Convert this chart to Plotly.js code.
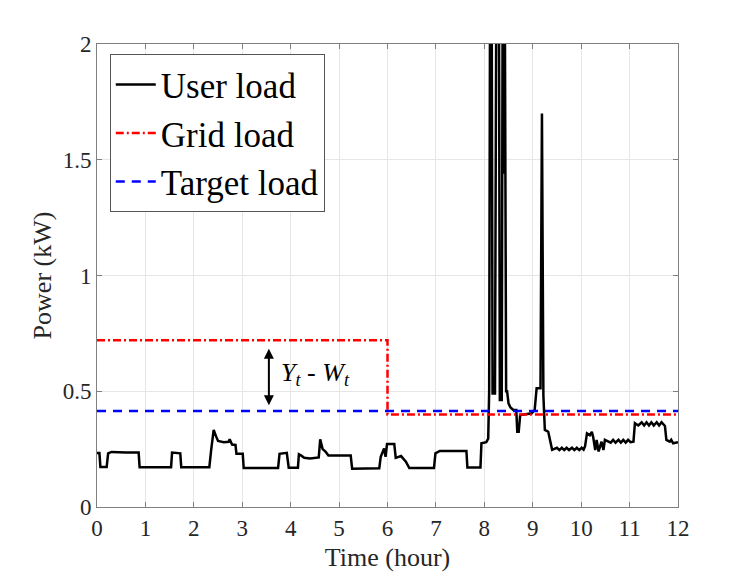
<!DOCTYPE html>
<html>
<head>
<meta charset="utf-8">
<script src="https://cdn.plot.ly/plotly-3.0.1.min.js"></script>
<style>
  html, body { margin: 0; padding: 0; background: #ffffff; }
  #chart { width: 747px; height: 577px; }
</style>
</head>
<body>
<div id="chart"></div>
<script>
// user load trace (hour, kW)
var userHours = [
  0.00, 0.05, 0.07, 0.20, 0.23, 0.30, 0.60, 0.86, 0.88, 1.30, 1.53, 1.55, 1.72, 1.74,
  2.32, 2.36, 2.41, 2.46, 2.50, 2.62, 2.72, 2.74, 2.79, 2.86, 2.88, 3.01, 3.03,
  3.74, 3.77, 3.92, 3.96, 4.15, 4.17, 4.22, 4.28, 4.40, 4.58, 4.61, 4.66, 4.72, 4.78, 5.24, 5.27,
  5.83, 5.86, 5.93, 5.96, 5.99, 6.14, 6.17, 6.28, 6.38, 6.45, 6.96, 6.99, 7.08, 7.63, 7.65,
  7.92, 7.94, 8.04, 8.08,
  8.10, 8.12, 8.15, 8.17, 8.22, 8.25, 8.30, 8.32, 8.36, 8.38, 8.40, 8.42, 8.45,
  8.47, 8.50, 8.54, 8.60, 8.66, 8.68, 8.71, 8.74, 8.82, 8.98, 9.04, 9.08, 9.16, 9.19, 9.22, 9.25,
  9.32, 9.36, 9.40, 9.50, 9.55, 9.60, 9.65, 9.70, 9.75, 9.81, 9.86, 9.91, 9.96, 10.01, 10.05,
  10.08, 10.12, 10.18, 10.22, 10.25, 10.29, 10.32, 10.36, 10.42, 10.46, 10.49, 10.56, 10.61,
  10.66, 10.71, 10.77, 10.82, 10.87, 10.92, 10.97, 11.02, 11.08, 11.11, 11.18, 11.25, 11.30,
  11.35, 11.40, 11.45, 11.50, 11.56, 11.61, 11.66, 11.73, 11.76, 11.83, 11.86, 11.90, 12.00
];
var userLoad = [
  0.233, 0.233, 0.173, 0.173, 0.232, 0.238, 0.235, 0.235, 0.172, 0.172, 0.172, 0.235, 0.232, 0.172,
  0.172, 0.250, 0.333, 0.305, 0.285, 0.280, 0.282, 0.293, 0.270, 0.268, 0.230, 0.230, 0.168,
  0.168, 0.230, 0.234, 0.170, 0.170, 0.228, 0.222, 0.213, 0.210, 0.214, 0.292, 0.250, 0.239, 0.222, 0.222, 0.165,
  0.167, 0.217, 0.253, 0.217, 0.272, 0.272, 0.212, 0.220, 0.196, 0.168, 0.168, 0.232, 0.242, 0.242, 0.171,
  0.171, 0.275, 0.280, 0.295,
  0.500, 2.400, 2.400, 0.490, 0.490, 2.400, 2.400, 0.462, 0.462, 2.400, 1.440, 2.400, 0.500,
  0.500, 0.448, 0.430, 0.419, 0.419, 0.325, 0.325, 0.397, 0.400, 0.405, 0.420, 0.513, 0.513, 1.700, 0.480, 0.333,
  0.325, 0.290, 0.247, 0.256, 0.246, 0.256, 0.246, 0.256, 0.246, 0.256, 0.246, 0.256, 0.246, 0.256, 0.248,
  0.262, 0.318, 0.310, 0.325, 0.300, 0.246, 0.290, 0.240, 0.282, 0.246, 0.290, 0.282, 0.278,
  0.290, 0.278, 0.290, 0.278, 0.290, 0.278, 0.290, 0.280, 0.282, 0.362, 0.352, 0.366, 0.352,
  0.366, 0.352, 0.366, 0.352, 0.366, 0.352, 0.366, 0.350, 0.290, 0.282, 0.290, 0.275, 0.280
];

// grid load (step) and target load
var gridHours = [0, 6, 6, 12];
var gridLoad = [0.72, 0.72, 0.40, 0.40];
var targetHours = [0, 12];
var targetLoad = [0.415, 0.415];

var xTicks = [0, 1, 2, 3, 4, 5, 6, 7, 8, 9, 10, 11, 12];
var yTicks = [0, 0.5, 1, 1.5, 2];
var yTickText = ['0', '0.5', '1', '1.5', '2'];

var serif = 'Liberation Serif, Times New Roman, serif';
var axisGray = '#808080';

var traces = [
  {
    x: userHours, y: userLoad, mode: 'lines', name: 'User load',
    line: { color: '#000000', width: 2.5 }
  },
  {
    x: gridHours, y: gridLoad, mode: 'lines', name: 'Grid load',
    line: { color: '#ff0000', width: 2.5, dash: '8px,3px,2px,3px' }
  },
  {
    x: targetHours, y: targetLoad, mode: 'lines', name: 'Target load',
    line: { color: '#0000ff', width: 2.5, dash: '9px,7px' }
  }
];

var layout = {
  width: 747,
  height: 577,
  paper_bgcolor: '#ffffff',
  plot_bgcolor: '#ffffff',
  margin: { l: 97, r: 69, t: 44, b: 70 },
  font: { family: serif, size: 23, color: '#262626' },
  showlegend: true,
  legend: {
    x: 0.022, y: 0.978, xanchor: 'left', yanchor: 'top',
    bgcolor: '#ffffff', bordercolor: '#555555', borderwidth: 1,
    font: { family: serif, size: 35, color: '#000000' },
    tracegroupgap: 0, itemwidth: 40
  },
  xaxis: {
    range: [0, 12],
    tickvals: xTicks,
    ticks: 'inside', ticklen: 5, tickcolor: axisGray,
    showline: true, linecolor: axisGray, linewidth: 1, mirror: 'ticks',
    showgrid: true, gridcolor: '#e6e6e6', gridwidth: 1,
    zeroline: false,
    tickfont: { family: serif, size: 23, color: '#262626' },
    title: { text: 'Time (hour)', font: { family: serif, size: 26, color: '#262626' }, standoff: 8 }
  },
  yaxis: {
    range: [0, 2],
    tickvals: yTicks, ticktext: yTickText,
    ticks: 'inside', ticklen: 5, tickcolor: axisGray,
    showline: true, linecolor: axisGray, linewidth: 1, mirror: 'ticks',
    showgrid: true, gridcolor: '#e6e6e6', gridwidth: 1,
    zeroline: false,
    tickfont: { family: serif, size: 23, color: '#262626' },
    title: { text: 'Power (kW)', font: { family: serif, size: 26, color: '#262626' }, standoff: 3 }
  },
  annotations: [
    {
      // double-headed arrow between grid and target load
      x: 3.55, y: 0.44, xref: 'x', yref: 'y',
      ax: 3.55, ay: 0.69, axref: 'x', ayref: 'y',
      text: '', showarrow: true,
      arrowhead: 2, startarrowhead: 2, arrowside: 'end+start',
      arrowsize: 1, arrowwidth: 2, arrowcolor: '#000000'
    },
    {
      x: 3.76, y: 0.575, xref: 'x', yref: 'y',
      xanchor: 'left', yanchor: 'middle', showarrow: false,
      text: '<i>Y</i><sub><i>t</i></sub> - <i>W</i><sub><i>t</i></sub>',
      font: { family: serif, size: 26, color: '#000000' }
    }
  ]
};

Plotly.newPlot('chart', traces, layout, { displayModeBar: false, staticPlot: true });
</script>
</body>
</html>
